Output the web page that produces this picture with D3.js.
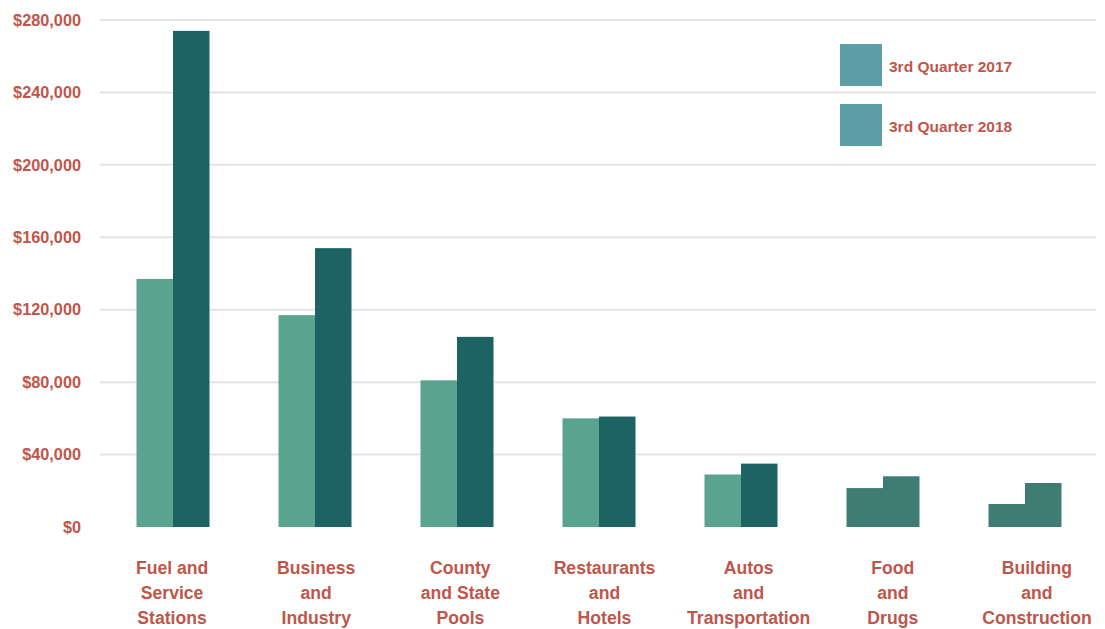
<!DOCTYPE html>
<html><head><meta charset="utf-8">
<script src="https://cdn.jsdelivr.net/npm/d3@7"></script>
<style>body{margin:0;background:#fff}svg{display:block}</style>
</head><body><svg id="c" width="1105" height="629"></svg>
<script>
const categories = ["Fuel and\nService\nStations","Business\nand\nIndustry","County\nand State\nPools","Restaurants\nand\nHotels","Autos\nand\nTransportation","Food\nand\nDrugs","Building\nand\nConstruction"];
const series = ["3rd Quarter 2017","3rd Quarter 2018"];
const q2017 = [137000,117000,81000,60000,29000,21500,12700];
const q2018 = [274000,154000,105000,61000,35000,28000,24300];
const yTicks = [0,40000,80000,120000,160000,200000,240000,280000];

const colors = ["#5aa38e","#1e6363"];
const mutedColor = "#3e7c74"; // last two categories render in one flat tone
const legendColor = "#5e9ea7";
const textColor = "#c0564a";

const svg = d3.select("#c");
const m = {left:102, right:1096, top:20, bottom:527};
const x = d3.scaleBand().domain(d3.range(categories.length)).range([m.left,m.right]).paddingInner(0).paddingOuter(0);
const xLabel = d3.scaleBand().domain(d3.range(categories.length)).range([100,1109]);
const y = d3.scaleLinear().domain([0,280000]).range([m.bottom,m.top]);
const barW = 36.5;

// gridlines
svg.append("g").selectAll("line").data(yTicks.slice(1)).join("line")
  .attr("x1",100).attr("x2",1096).attr("y1",d=>y(d)).attr("y2",d=>y(d))
  .attr("stroke","#e4e4e4").attr("stroke-width",2);

// y axis labels
const yAxis = d3.axisLeft(y).tickValues(yTicks).tickSize(0).tickPadding(0)
  .tickFormat(d=>"$"+d3.format(",")(d));
const ga = svg.append("g").attr("transform","translate(81,0)").call(yAxis);
ga.select(".domain").remove();
ga.selectAll("text").attr("fill",textColor).attr("font-family","Liberation Sans, Arial, sans-serif")
  .attr("font-weight","bold").attr("font-size",16.3);

// bars
const data = [];
categories.forEach((c,i)=>{
  [q2017[i],q2018[i]].forEach((v,s)=>data.push({i,s,v}));
});
svg.append("g").selectAll("rect").data(data).join("rect")
  .attr("x",d=>x(d.i)+x.bandwidth()/2 - barW + d.s*barW)
  .attr("width",barW)
  .attr("y",d=>y(d.v)).attr("height",d=>y(0)-y(d.v))
  .attr("fill",d=>d.i>=5?mutedColor:colors[d.s]);

// category labels
const cl = svg.append("g").selectAll("text").data(categories).join("text")
  .attr("text-anchor","middle").attr("fill",textColor)
  .attr("font-family","Liberation Sans, Arial, sans-serif").attr("font-weight","bold").attr("font-size",17.6)
  .attr("transform",(d,i)=>`translate(${xLabel(i)+xLabel.bandwidth()/2},574)`);
cl.selectAll("tspan").data(d=>d.split("\n")).join("tspan")
  .attr("x",0).attr("dy",(d,j)=>j===0?0:25).text(d=>d);

// legend
const lg = svg.append("g").selectAll("g").data(series).join("g")
  .attr("transform",(d,i)=>`translate(840,${44+i*60})`);
lg.append("rect").attr("width",42).attr("height",42).attr("fill",legendColor);
lg.append("text").attr("x",49).attr("y",28).attr("fill",textColor)
  .attr("font-family","Liberation Sans, Arial, sans-serif").attr("font-weight","bold").attr("font-size",15.5)
  .text(d=>d);
</script></body></html>
